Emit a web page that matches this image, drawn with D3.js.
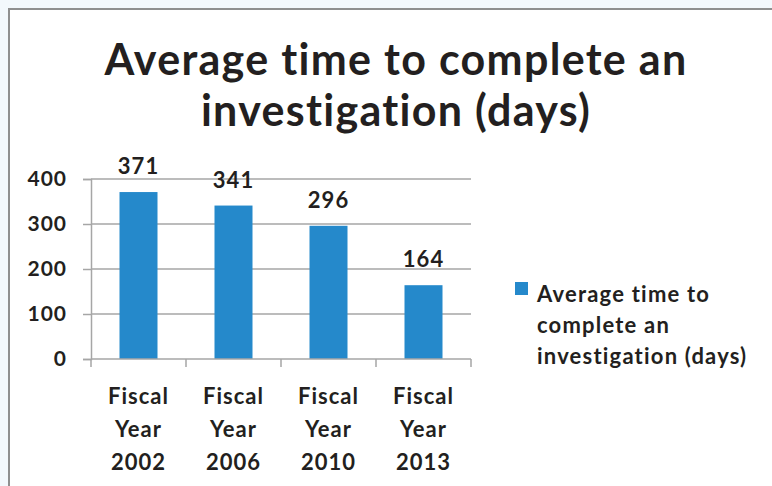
<!DOCTYPE html>
<html>
<head>
<meta charset="utf-8">
<script src="https://cdn.jsdelivr.net/npm/d3@7"></script>
<style>
  body { margin: 0; background: #f3f8fc; }
  svg { display: block; font-family: Lato, "Open Sans", sans-serif; font-weight: bold;
        font-variant-ligatures: none; }
</style>
</head>
<body>
<svg id="chart" width="772" height="486"></svg>
<script>
const titleLines = ["Average time to complete an", "investigation (days)"];
const categories = [["Fiscal", "Year", "2002"], ["Fiscal", "Year", "2006"], ["Fiscal", "Year", "2010"], ["Fiscal", "Year", "2013"]];
const values = [371, 341, 296, 164];
const yTicks = [0, 100, 200, 300, 400];
const legendLines = ["Average time to", "complete an", "investigation (days)"];

const width = 772, height = 486;
const margin = { top: 179, right: 301, bottom: 127, left: 91 };
const barColor = "#2589cb";
const gridColor = "#a6a6a6";
const textColor = "#231f20";

const svg = d3.select("#chart");

// chart frame (runs off the right and bottom edge)
svg.append("rect")
  .attr("x", 9).attr("y", 9)
  .attr("width", width + 20).attr("height", height + 20)
  .attr("fill", "#fff")
  .attr("stroke", "#8f8f8f")
  .attr("stroke-width", 2);

// title
svg.append("text")
  .attr("text-anchor", "middle")
  .attr("fill", textColor)
  .attr("font-size", 43)
  .attr("letter-spacing", 1.3)
  .selectAll("tspan")
  .data(titleLines)
  .join("tspan")
  .attr("x", 396)
  .attr("y", (d, i) => 75 + i * 51)
  .text(d => d);

const x = d3.scaleBand()
  .domain(d3.range(values.length))
  .range([margin.left, width - margin.right])
  .paddingInner(0.6)
  .paddingOuter(0.3);

const y = d3.scaleLinear()
  .domain([0, 400])
  .range([height - margin.bottom, margin.top]);

// gridlines
svg.append("g")
  .selectAll("line")
  .data(yTicks.slice(1))
  .join("line")
  .attr("x1", margin.left).attr("x2", width - margin.right)
  .attr("y1", d => y(d)).attr("y2", d => y(d))
  .attr("stroke", gridColor)
  .attr("stroke-width", 1.5);

// bars
svg.append("g")
  .selectAll("rect")
  .data(values)
  .join("rect")
  .attr("x", (d, i) => x(i))
  .attr("y", d => y(d))
  .attr("width", x.bandwidth())
  .attr("height", d => y(0) - y(d))
  .attr("fill", barColor);

// y axis
const yAxis = svg.append("g")
  .attr("transform", `translate(${margin.left},0)`)
  .call(d3.axisLeft(y).tickValues(yTicks).tickSize(8).tickPadding(16));
yAxis.attr("font-family", null).attr("font-size", null);
yAxis.selectAll("line, path").attr("stroke", gridColor).attr("stroke-width", 1.5);
yAxis.selectAll("text")
  .attr("font-size", 21).attr("letter-spacing", 1).attr("fill", textColor);

// x axis with ticks at category boundaries
const xAxisY = y(0);
const catW = (width - margin.right - margin.left) / values.length;
svg.append("line")
  .attr("x1", margin.left).attr("x2", width - margin.right)
  .attr("y1", xAxisY).attr("y2", xAxisY)
  .attr("stroke", gridColor).attr("stroke-width", 1.5);
svg.append("g")
  .selectAll("line")
  .data(d3.range(values.length + 1))
  .join("line")
  .attr("x1", i => margin.left + i * catW)
  .attr("x2", i => margin.left + i * catW)
  .attr("y1", xAxisY).attr("y2", xAxisY + 8)
  .attr("stroke", gridColor).attr("stroke-width", 1.5);

// category labels
svg.append("g")
  .selectAll("text")
  .data(categories)
  .join("text")
  .attr("text-anchor", "middle")
  .attr("fill", textColor)
  .attr("font-size", 22)
  .attr("letter-spacing", 1)
  .each(function(d, i) {
    d3.select(this).selectAll("tspan")
      .data(d)
      .join("tspan")
      .attr("x", x(i) + x.bandwidth() / 2)
      .attr("y", (t, j) => xAxisY + 45 + j * 33)
      .text(t => t);
  });

// data labels
svg.append("g")
  .selectAll("text")
  .data(values)
  .join("text")
  .attr("text-anchor", "middle")
  .attr("fill", textColor)
  .attr("font-size", 22)
  .attr("letter-spacing", 1)
  .attr("x", (d, i) => x(i) + x.bandwidth() / 2)
  .attr("y", d => y(d) - 18)
  .text(d => d);

// legend
const legend = svg.append("g").attr("transform", "translate(515,282)");
legend.append("rect")
  .attr("width", 13).attr("height", 13)
  .attr("fill", barColor);
legend.append("text")
  .attr("fill", textColor)
  .attr("font-size", 22)
  .attr("letter-spacing", 1.2)
  .selectAll("tspan")
  .data(legendLines)
  .join("tspan")
  .attr("x", 22)
  .attr("y", (d, i) => 20 + i * 31)
  .text(d => d);
</script>
</body>
</html>
